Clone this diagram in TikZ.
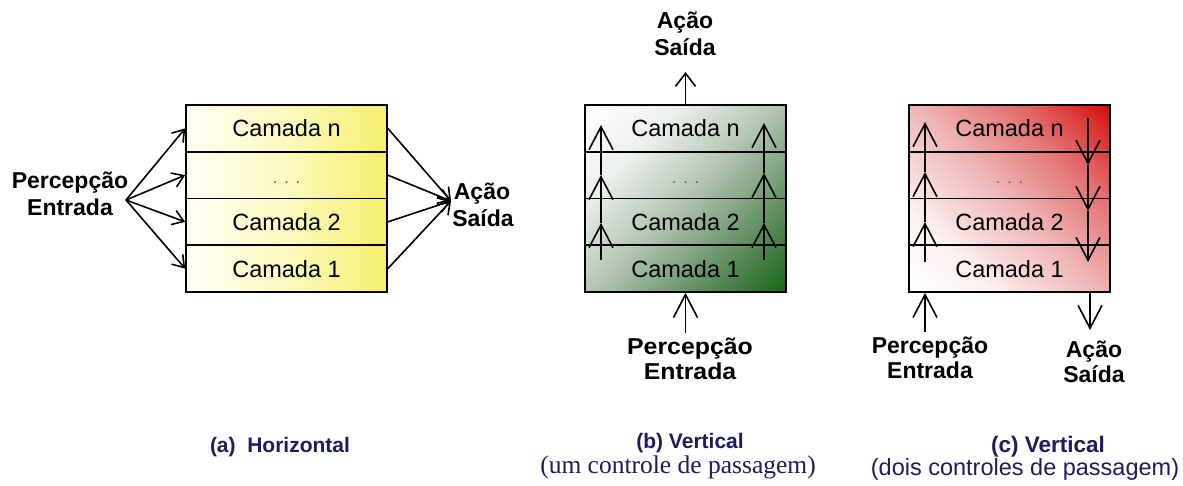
\documentclass[tikz,border=0pt]{standalone}
\usepackage{fontspec}
\setmainfont{Liberation Sans}
\newfontfamily\serifcap{Liberation Serif}
\newfontfamily\widesans[FakeStretch=1.08]{Liberation Sans}
\usetikzlibrary{arrows.meta}
\definecolor{navy}{RGB}{28,28,95}
\definecolor{yA}{RGB}{255,255,245}
\definecolor{yB}{RGB}{252,249,190}
\definecolor{yC}{RGB}{246,238,110}
\definecolor{gA}{RGB}{236,240,236}
\definecolor{gB}{RGB}{178,196,178}
\definecolor{gC}{RGB}{100,145,100}
\definecolor{gD}{RGB}{25,105,25}
\definecolor{rA}{RGB}{252,240,240}
\definecolor{rB}{RGB}{238,180,180}
\definecolor{rC}{RGB}{228,110,110}
\definecolor{rD}{RGB}{215,15,15}
\definecolor{dotgray}{RGB}{90,90,90}
\pgfdeclarehorizontalshading{ysh}{100bp}{color(0bp)=(yA); color(25bp)=(yA); color(50bp)=(yB); color(75bp)=(yC); color(100bp)=(yC)}
\pgfdeclarehorizontalshading{gsh}{100bp}{color(0bp)=(white); color(15bp)=(white); color(32bp)=(gA); color(50bp)=(gB); color(68bp)=(gC); color(85bp)=(gD); color(100bp)=(gD)}
\pgfdeclarehorizontalshading{rsh}{100bp}{color(0bp)=(white); color(15bp)=(white); color(30bp)=(rA); color(50bp)=(rB); color(68bp)=(rC); color(85bp)=(rD); color(100bp)=(rD)}
\begin{document}
\begin{tikzpicture}[x=1pt,y=-1pt,line width=1.6pt,
  row/.style={draw, minimum width=201pt, minimum height=46.75pt, inner sep=0pt,
    text height=17pt, text depth=0pt, font=\fontsize{23.5}{28}\selectfont},
  lbl/.style={font=\fontsize{23}{27}\selectfont\bfseries, anchor=base, inner sep=0pt},
  wlbl/.style={font=\widesans\fontsize{23}{27}\selectfont\bfseries, anchor=base, inner sep=0pt},
  capb/.style={text=navy, anchor=base, inner sep=0pt},
  sarr/.style={-{Straight Barb[length=11pt,width=15pt]}},
  barr/.style={-{Straight Barb[length=23pt,width=24pt]}},
  marr/.style={-{Straight Barb[length=13pt,width=20pt]}}]
\useasboundingbox (0,0) rectangle (1183,485);

% ---------------- (a) Horizontal ----------------
\shade[shading=ysh] (186,105) rectangle (387,292);
\node[row] (an) at (286.5,128.375) {Camada n};
\node[row] (ad) at (286.5,175.125) {\fontsize{16}{18}\selectfont\textcolor{dotgray}{.\hspace{7pt}.\hspace{7pt}.}};
\node[row] (a2) at (286.5,221.875) {Camada 2};
\node[row] (a1) at (286.5,268.625) {Camada 1};
\coordinate (ain) at (126,200);
\coordinate (aout) at (451,201);
\foreach \r in {an,ad,a2,a1}{
  \draw[sarr] (ain) -- (\r.west);
  \draw[sarr] (\r.east) -- (aout);
}
\node[lbl] (ap1) at (70,188) {Percepção};
\node[lbl] (ap2) at (70,215) {Entrada};
\node[lbl] (as1) at (482,199) {Ação};
\node[lbl] (as2) at (483,226) {Saída};

% ---------------- (b) Vertical ----------------
\shade[shading=gsh, shading angle=-45] (585,105) rectangle (786,292);
\node[row] (bn) at (685.5,128.375) {Camada n};
\node[row] (bd) at (685.5,175.125) {\fontsize{16}{18}\selectfont\textcolor{dotgray}{.\hspace{7pt}.\hspace{7pt}.}};
\node[row] (b2) at (685.5,221.875) {Camada 2};
\node[row] (b1) at (685.5,268.625) {Camada 1};
\coordinate (bl0) at (601,260);
\coordinate (bl1) at (601,223);
\coordinate (bl2) at (601,175);
\coordinate (bl3) at (601,125);
\coordinate (br0) at (764,260);
\coordinate (br1) at (764,223);
\coordinate (br2) at (764,173);
\coordinate (br3) at (764,123);
\draw[barr] (bl0) -- (bl1);
\draw[barr] (bl1) -- (bl2);
\draw[barr] (bl2) -- (bl3);
\draw[barr] (br0) -- (br1);
\draw[barr] (br1) -- (br2);
\draw[barr] (br2) -- (br3);
\coordinate (btop) at (685.5,72);
\draw[marr] (bn.north) -- (btop);
\coordinate (bbot) at (685.5,333);
\draw[barr] (bbot) -- (b1.south);
\node[lbl] (bs1) at (685,28) {Ação};
\node[lbl] (bs2) at (685,55) {Saída};
\node[wlbl] (bp1) at (690,354) {Percepção};
\node[wlbl] (bp2) at (690,379) {Entrada};

% ---------------- (c) Vertical ----------------
\shade[shading=rsh, shading angle=45] (909,105) rectangle (1110,292);
\node[row] (cn) at (1009.5,128.375) {Camada n};
\node[row] (cd) at (1009.5,175.125) {\fontsize{16}{18}\selectfont\textcolor{dotgray}{.\hspace{7pt}.\hspace{7pt}.}};
\node[row] (c2) at (1009.5,221.875) {Camada 2};
\node[row] (c1) at (1009.5,268.625) {Camada 1};
\coordinate (cl0) at (925,262);
\coordinate (cl1) at (925,222);
\coordinate (cl2) at (925,172);
\coordinate (cl3) at (925,122);
\coordinate (cr0) at (1088,118);
\coordinate (cr1) at (1088,165);
\coordinate (cr2) at (1088,211);
\coordinate (cr3) at (1088,262);
\draw[barr] (cl0) -- (cl1);
\draw[barr] (cl1) -- (cl2);
\draw[barr] (cl2) -- (cl3);
\draw[barr] (cr0) -- (cr1);
\draw[barr] (cr1) -- (cr2);
\draw[barr] (cr2) -- (cr3);
\coordinate (cbl) at (925,332);
\draw[barr] (cbl) -- (cbl |- c1.south);
\coordinate (cbr) at (1090,330);
\draw[barr] (cbr |- c1.south) -- (cbr);
\node[lbl] (cp1) at (930,353) {Percepção};
\node[lbl] (cp2) at (930,378) {Entrada};
\node[lbl] (cs1) at (1094,357) {Ação};
\node[lbl] (cs2) at (1094,382) {Saída};

% ---------------- captions ----------------
\node[capb, font=\fontsize{21}{25}\selectfont\bfseries] (capa) at (280,452) {(a)\ \ Horizontal};
\node[capb, font=\fontsize{21}{25}\selectfont\bfseries] (capb1) at (690,448) {(b) Vertical};
\node[capb, font=\serifcap\fontsize{25.5}{30}\selectfont] (capb2) at (678,473) {(um controle de passagem)};
\node[capb, font=\fontsize{22.5}{26}\selectfont\bfseries] (capc1) at (1048,452) {(c) Vertical};
\node[capb, font=\fontsize{23.5}{28}\selectfont] (capc2) at (1025,475) {(dois controles de passagem)};
\end{tikzpicture}
\end{document}
